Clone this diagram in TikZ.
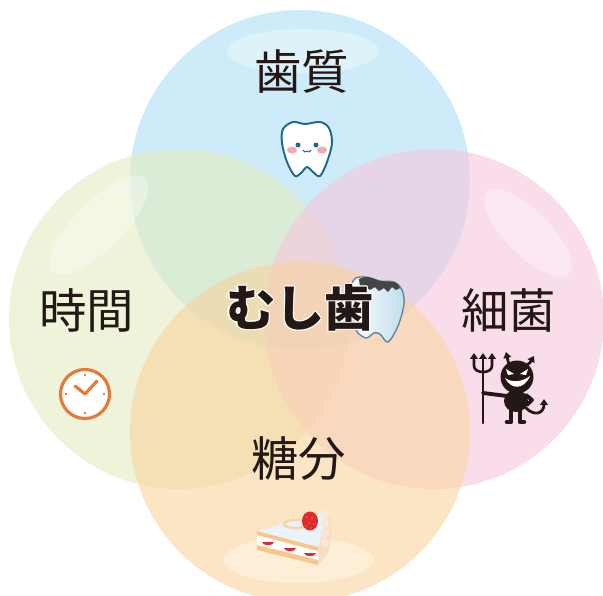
\documentclass[tikz,border=0pt]{standalone}
\usepackage{fontspec}
\newfontfamily\jp{Noto Sans CJK JP}
\usetikzlibrary{arrows.meta}
\definecolor{ink}{HTML}{231815}
\definecolor{cTop}{RGB}{172,222,243}
\definecolor{cLeft}{RGB}{227,235,192}
\definecolor{cRight}{RGB}{247,198,222}
\definecolor{cBottom}{RGB}{250,212,158}
\definecolor{toothline}{HTML}{1F6A8A}
\definecolor{cheek}{HTML}{F5A9B0}
\definecolor{clockline}{HTML}{E27A3A}
\definecolor{berry}{HTML}{DE2A2E}
\definecolor{sponge}{HTML}{F8C58A}
\definecolor{creamy}{HTML}{F5DEC3}
\definecolor{icing}{HTML}{EAF2FA}
\definecolor{decayline}{HTML}{5D8AA3}
\definecolor{decayblue}{HTML}{BFDDEB}
\definecolor{decay}{HTML}{454545}
\begin{document}
\begin{tikzpicture}[x=0.02cm, y=-0.02cm, line join=round, line cap=round,
    word/.style={font=\jp\fontsize{27}{30}\selectfont, text=ink, inner sep=0pt},
    bigword/.style={font=\jp\bfseries\fontsize{28}{30}\selectfont, inner sep=0pt},
    bubble/.style={fill opacity=0.6},
    shine/.style={white, fill opacity=0.35}]
  \useasboundingbox (0,0) rectangle (603,596);
  \def\R{170}
  \coordinate (Top) at (300,180); \coordinate (Left) at (179,319);
  \coordinate (Right) at (434,319); \coordinate (Bottom) at (300,432);
  \coordinate (Mid) at (300,308);
  \fill[cTop, bubble] (Top) circle[radius=\R];
  \fill[cLeft, bubble] (Left) circle[radius=\R];
  \fill[cRight, bubble] (Right) circle[radius=\R];
  \fill[cBottom, bubble] (Bottom) circle[radius=\R];
  % soft highlights
  \fill[shine] (303,51) ellipse[x radius=76, y radius=22];
  \fill[shine, rotate around={45:(99,225)}] (99,225) ellipse[x radius=66, y radius=24];
  \fill[shine, rotate around={-45:(528,233)}] (528,233) ellipse[x radius=58, y radius=22];
  \fill[shine] (298,560) ellipse[x radius=75, y radius=23];

  \node[word] (Enamel) at (302,72) {歯質};
  \node[word] (Time) at (87,310) {時間};
  \node[word] (Germ) at (509,310) {細菌};
  \node[word] (Sugar) at (299,459) {糖分};

  % happy tooth
  \begin{scope}[shift={(307,150)}]
    \filldraw[toothline, fill=white, line width=1.1] plot[smooth cycle, tension=0.55] coordinates {(-2,-26) (-14,-28) (-24,-21) (-25,-7) (-20,12) (-12,26) (-5,22) (0,17) (6,22) (13,26) (20,12) (25,-7) (22,-22) (13,-28)};
    \fill[cheek] (-15,0) ellipse[x radius=5, y radius=3.5] (15,0) ellipse[x radius=5, y radius=3.5];
    \fill[toothline] (-9,-5) circle[radius=2.5] (9,-5) circle[radius=2.5];
    \draw[toothline, line width=0.6] (-4,0) .. controls (-3,2.5) and (-1,2.5) .. (0,1) .. controls (1,2.5) and (3,2.5) .. (4,0);
  \end{scope}

  % clock
  \begin{scope}[shift={(85,394)}]
    \filldraw[clockline, fill=white, line width=1.8] (0,0) circle[radius=24.5];
    \draw[clockline, line width=1.8] (-10,-8) -- (0,0) -- (12,-13);
    \foreach \a in {0,90,180,270} \fill[clockline] (\a:19) circle[radius=1.3];
  \end{scope}

  % devil with trident
  \begin{scope}[shift={(517,377)}, tip/.style={-{Triangle[length=3.4pt, width=4.4pt]}}]
    \fill[ink] (0,0) circle[radius=16.5];
    \draw[ink, line width=1.6, tip] (-8,-12) -- (-11,-25);
    \draw[ink, line width=1.6, tip] (9,-12) .. controls (13,-14) .. (17,-21);
    \fill[white] (-11,-8) -- (-3,-3) -- (-9,-2) -- cycle;
    \fill[white] (11,-8) -- (3,-3) -- (9,-2) -- cycle;
    \fill[white] (-12,1) .. controls (-6,13) and (7,13) .. (13,-1) .. controls (5,5) and (-5,6) .. cycle;
    \fill[ink] (-1,24) ellipse[x radius=12, y radius=11];
    \draw[ink, line width=2.6] (-6,30) -- (-6,45) -- (-10,45) (3,30) -- (3,45) -- (7,45);
    \draw[ink, line width=2.2] (-10,19) -- (-34,16) (9,18) -- (15,23) -- (10,28);
    \draw[ink, line width=1.6, tip] (9,31) .. controls (18,40) and (27,36) .. (27,22);
    \draw[ink, line width=1.7] (-34,-6) -- (-34,46);
    \draw[ink, line width=1.5, tip] (-34,-6) -- (-34,-24);
    \draw[ink, line width=1.5, {Triangle[length=3.4pt, width=4.4pt]}-{Triangle[length=3.4pt, width=4.4pt]}] (-43,-24) -- (-43,-11) .. controls (-43,-3) and (-25,-3) .. (-25,-11) -- (-25,-24);
  \end{scope}

  % shortcake
  \fill[creamy] (318,547) -- (328,512) .. controls (333,525) and (332,543) .. (328,553) -- (318,565) -- cycle;
  \fill[icing] (257,531) -- (300,519) -- (328,512) -- (318,547) -- cycle;
  \fill[white] (257,531) -- (318,547) -- (318,565) -- (257,550) -- cycle;
  \fill[sponge] (257,531) -- (318,547) -- (318,551) -- (257,535) -- cycle;
  \fill[sponge] (257,545) -- (318,560) -- (318,565) -- (257,550) -- cycle;
  \foreach \x/\y in {268/542, 290/548, 310/553} \fill[berry] (\x-6,\y) arc[start angle=180, end angle=0, x radius=6, y radius=3] -- cycle;
  \foreach \y in {513,523,533,543} \fill[creamy!70!white] (325,\y) circle[radius=4.5];
  \draw[creamy!90!orange, line width=1.5] (296,524) ellipse[x radius=12, y radius=4];
  \fill[berry] (310,521) ellipse[x radius=8, y radius=9.5];
  \foreach \x/\y in {307/517, 312/518, 309/523, 314/524, 306/526, 311/528} \fill[yellow!70!orange] (\x,\y) circle[radius=0.6];

  % decayed tooth behind the title
  \filldraw[draw=decayline, left color=white, right color=decayblue, line width=0.8] plot[smooth cycle, tension=0.55] coordinates {(353,281) (366,277) (380,281) (394,282) (402,290) (404,304) (398,326) (388,342) (380,334) (374,333) (366,338) (356,330) (352,310)};
  \fill[decay] (359,279) .. controls (366,276) .. (380,281) -- (394,282) .. controls (398,284) .. (400,288) -- (396,290) -- (392,287) -- (388,292) -- (384,288) -- (379,291) -- (375,287) -- (370,290) -- (365,286) -- (360,287) -- cycle;

  \foreach \a in {0,45,...,315} \node[bigword, text=white] at ([shift={(\a:1.3)}]Mid) {むし歯};
  \node[bigword, text=ink] (Caries) at (Mid) {むし歯};
\end{tikzpicture}
\end{document}
